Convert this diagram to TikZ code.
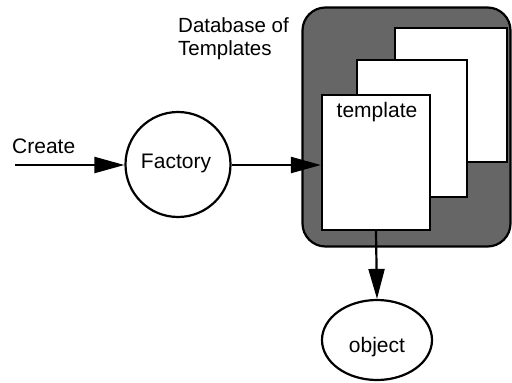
\documentclass[tikz,border=0pt]{standalone}
\usepackage{fontspec}
\setmainfont{Liberation Sans}
\usetikzlibrary{arrows.meta,shapes.geometric}
\begin{document}
\begin{tikzpicture}[x=1pt,y=-1pt,
  lbl/.style={font=\fontsize{21}{23}\selectfont, inner sep=0pt},
  sheet/.style={draw=black, line width=2.2pt, fill=white},
  bubble/.style={draw=black, line width=2.2pt, fill=white, inner sep=0pt},
  flow/.style={line width=2.2pt, -{Triangle[length=30pt,width=16pt]}}]
\useasboundingbox (0,0) rectangle (512,383);
% database
\node[draw=black, line width=2.2pt, fill=black!60, rounded corners=23pt,
  minimum width=208pt, minimum height=239pt, inner sep=0pt] (db) at (406.5,127) {};
\node[sheet, minimum width=112pt, minimum height=134pt, inner sep=0pt] (back) at (451,95) {};
\node[sheet, minimum width=110pt, minimum height=137pt, inner sep=0pt] (mid) at (412,128.5) {};
\node[sheet, minimum width=108pt, minimum height=135pt, inner sep=0pt] (front) at (376,162.5) {};
\node[lbl, anchor=north] (tpl) at (377,102) {template};
\node[lbl, font=\fontsize{20.5}{23}\selectfont, anchor=north west, align=left] (dbl) at (178,17) {Database of\\Templates};
% factory and object
\node[bubble, circle, minimum size=105pt] (fac) at (178,164.5) {};
\node[lbl] (facl) at (176,163) {Factory};
\node[bubble, ellipse, minimum width=110pt, minimum height=80pt] (obj) at (377,340) {};
\node[lbl] (objl) at (377,347) {object};
% create
\node[lbl, anchor=west] (cr) at (12,146) {Create};
\coordinate (start) at (15,165);
\draw[flow] (start) -- (fac.west |- start);
\draw[flow] (fac.east |- start) -- (front.west |- start);
\draw[flow] (front.south) -- (obj.north);
\end{tikzpicture}
\end{document}
